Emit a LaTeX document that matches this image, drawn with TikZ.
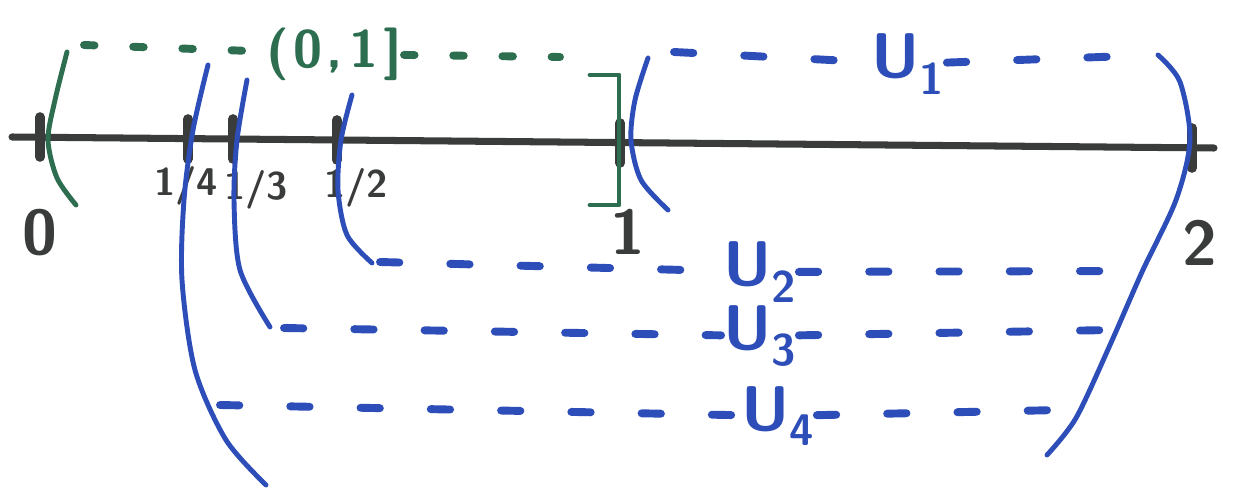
\documentclass[tikz,border=0pt]{standalone}
\usepackage{xcolor}
\definecolor{tinta}{HTML}{3A3C3B}
\definecolor{verde}{HTML}{2E6E50}
\definecolor{azul}{HTML}{2D4DB8}
\usepackage{tikz}
\usetikzlibrary{positioning}

\begin{document}
\begin{tikzpicture}[
  x=0.02cm, y=-0.02cm,
  eje/.style={draw=tinta, line width=4pt, line cap=round},
  marca/.style={draw=tinta, line width=5.5pt, line cap=round},
  cifra/.style={text=tinta, font=\sffamily\bfseries\fontsize{36}{38}\selectfont, inner sep=0pt},
  fraccion/.style={text=tinta, font=\sffamily\bfseries\fontsize{22}{24}\selectfont, inner sep=0pt},
  pluma/.style={line width=2.8pt, line cap=round, line join=round},
  guionverde/.style={draw=verde, line width=4.5pt, line cap=round, dash pattern=on 6pt off 22pt},
  guionazul/.style={draw=azul, line width=4.5pt, line cap=round, dash pattern=on 11pt off 29pt},
  etiqueta/.style={text=azul, font=\sffamily\bfseries\fontsize{36}{38}\selectfont, inner sep=1pt},
  conjunto/.style={text=verde, font=\sffamily\bfseries\fontsize{30}{32}\selectfont, inner sep=1pt}
]
\useasboundingbox[fill=white] (0,0) rectangle (1238,489);

% recta real
\coordinate (izq) at (12,137);
\coordinate (der) at (1214,148);
\draw[eje] (izq) -- (der);
\foreach \x/\y in {40/137, 188/139, 233/139, 337/140, 620/143, 1192/148}
  \draw[marca] (\x,\y-20) -- (\x,\y+20);

\node[cifra] (cero) at (40,233) {0};
\node[fraccion] (cuarto) at (186,186) {1/4};
\node[fraccion] (tercio) at (256,190) {1/3};
\node[fraccion] (medio) at (356,188) {1/2};
\node[cifra] (uno) at (628,232) {1};
\node[cifra] (dos) at (1200,243) {2};

% intervalo (0,1]
\node[conjunto] (intervalo) at (334,54) {(\kern3pt0\kern2pt,\kern4pt1\kern3pt]};
\draw[draw=verde, pluma] plot[smooth] coordinates {(67,52) (55,100) (48,140) (57,178) (76,205)};
\coordinate (v0) at (84,45);
\coordinate (v1) at (560,57);
\draw[guionverde] (v0) -- (intervalo);
\draw[guionverde] (intervalo) -- (v1);
\draw[draw=verde, pluma] (590,75) -- (619,75) -- (619,205) -- (590,205);

% U_1
\node[etiqueta] (eu1) at (908,64) {U\textsubscript{1}};
\draw[draw=azul, pluma] plot[smooth] coordinates {(648,58) (635,100) (631,140) (641,180) (668,210)};
\draw[draw=azul, pluma] plot[smooth] coordinates {(1158,55) (1180,82) (1190,140) (1176,200) (1142,272) (1110,345) (1076,418) (1047,455)};
\coordinate (a1) at (674,52);
\coordinate (b1) at (1156,55);
\draw[guionazul] (a1) -- (eu1);
\draw[guionazul] (eu1) -- (b1);

% U_2
\node[etiqueta] (eu2) at (760,272) {U\textsubscript{2}};
\draw[draw=azul, pluma] plot[smooth] coordinates {(352,95) (341,140) (338,190) (347,235) (372,263)};
\coordinate (a2) at (380,262);
\coordinate (b2) at (1133,271);
\draw[guionazul] (a2) -- (eu2);
\draw[guionazul] (eu2) -- (b2);

% U_3
\node[etiqueta] (eu3) at (760,336) {U\textsubscript{3}};
\draw[draw=azul, pluma] plot[smooth] coordinates {(247,80) (237,140) (234,200) (240,270) (270,327)};
\coordinate (a3) at (284,328);
\coordinate (b3) at (1112,330);
\draw[guionazul] (a3) -- (eu3);
\draw[guionazul] (eu3) -- (b3);

% U_4
\node[etiqueta] (eu4) at (778,416) {U\textsubscript{4}};
\draw[draw=azul, pluma] plot[smooth] coordinates {(208,65) (193,130) (184,200) (182,280) (195,370) (226,440) (266,485)};
\coordinate (a4) at (220,405);
\coordinate (b4) at (1060,410);
\draw[guionazul] (a4) -- (eu4);
\draw[guionazul] (eu4) -- (b4);
\end{tikzpicture}
\end{document}
